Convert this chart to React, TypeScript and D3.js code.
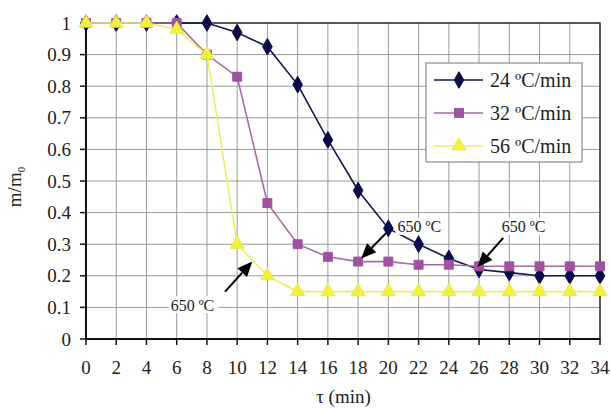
import React from 'react';
import * as d3 from 'd3';

// time (min)
const times = [0, 2, 4, 6, 8, 10, 12, 14, 16, 18, 20, 22, 24, 26, 28, 30, 32, 34];
const rate24 = [1, 1, 1, 1, 1, 0.97, 0.925, 0.805, 0.63, 0.47, 0.35, 0.3, 0.255, 0.22, 0.21, 0.2, 0.2, 0.2];
const rate32 = [1, 1, 1, 1, 0.9, 0.83, 0.43, 0.3, 0.26, 0.245, 0.245, 0.235, 0.235, 0.23, 0.23, 0.23, 0.23, 0.23];
const rate56 = [1, 1, 1, 0.98, 0.9, 0.3, 0.2, 0.15, 0.15, 0.15, 0.15, 0.15, 0.15, 0.15, 0.15, 0.15, 0.15, 0.15];
const seriesNames = ['24 ºC/min', '32 ºC/min', '56 ºC/min'];
const yTicks = [0, 0.1, 0.2, 0.3, 0.4, 0.5, 0.6, 0.7, 0.8, 0.9, 1];

// annotation text position + arrow tail/tip, in data units
const notes = [
  { label: '650 ºC', tx: 20.6, ty: 0.355, x0: 19.85, y0: 0.335, x1: 18.2, y1: 0.255 },
  { label: '650 ºC', tx: 27.5, ty: 0.355, x0: 27.6, y0: 0.32, x1: 25.9, y1: 0.228 },
  { label: '650 ºC', tx: 5.6, ty: 0.107, x0: 9.2, y0: 0.15, x1: 11.0, y1: 0.245 },
];

const W = 611;
const H = 408;
const m = { left: 86, right: 11, top: 23, bottom: 69 };
const font = '"Liberation Serif", "Times New Roman", serif';

const styles = [
  { line: '#141450', fill: '#0b0b4a', stroke: '#0b0b4a', shape: d3.symbolDiamond, size: 80 },
  { line: '#a86aa6', fill: '#a0529e', stroke: '#a0529e', shape: d3.symbolSquare, size: 80 },
  { line: '#eeee66', fill: '#f2f23a', stroke: '#e8e850', shape: d3.symbolTriangle, size: 85 },
];

export default function App() {
  const x = d3.scaleLinear().domain([0, 34]).range([m.left, W - m.right]);
  const y = d3.scaleLinear().domain([0, 1]).range([H - m.bottom, m.top]);
  const series = [rate24, rate32, rate56];
  const line = d3.line<number>().x((_, i) => x(times[i])).y((d) => y(d));

  const arrowPath = (x0: number, y0: number, x1: number, y1: number) => {
    const ax = x(x0), ay = y(y0), bx = x(x1), by = y(y1);
    const ang = Math.atan2(by - ay, bx - ax);
    const hl = 15, hw = 6.5;
    const cx = bx - hl * Math.cos(ang), cy = by - hl * Math.sin(ang);
    const px = -Math.sin(ang) * hw, py = Math.cos(ang) * hw;
    return {
      shaft: `M${ax},${ay}L${cx},${cy}`,
      head: `M${bx},${by}L${cx + px},${cy + py}L${cx - px},${cy - py}Z`,
    };
  };

  const lx = 426, ly = 63, lw = 156, lh = 99;

  return (
    <svg width={W} height={H} style={{ position: 'absolute', left: 0, top: 0, background: '#fff' }} fontFamily={font}>
      {/* grid */}
      {yTicks.map((t) => (
        <line key={'gy' + t} x1={x(0)} x2={x(34)} y1={y(t)} y2={y(t)} stroke="#9a9a9a" strokeWidth={1} />
      ))}
      {times.map((t) => (
        <line key={'gx' + t} x1={x(t)} x2={x(t)} y1={y(0)} y2={y(1)} stroke="#9a9a9a" strokeWidth={1} />
      ))}
      <rect x={x(0)} y={y(1)} width={x(34) - x(0)} height={y(0) - y(1)} fill="none" stroke="#333" strokeWidth={1.5} />
      <line x1={x(0)} x2={x(0)} y1={y(0)} y2={y(1)} stroke="#111" strokeWidth={2} />
      <line x1={x(0)} x2={x(34)} y1={y(0)} y2={y(0)} stroke="#111" strokeWidth={2} />

      {/* ticks */}
      {yTicks.map((t) => (
        <g key={'ty' + t}>
          <line x1={x(0) - 6} x2={x(0)} y1={y(t)} y2={y(t)} stroke="#111" strokeWidth={1.5} />
          <text x={x(0) - 15} y={y(t)} dy="0.35em" textAnchor="end" fontSize={19} fill="#222">
            {d3.format('~g')(t)}
          </text>
        </g>
      ))}
      {times.map((t) => (
        <g key={'tx' + t}>
          <line x1={x(t)} x2={x(t)} y1={y(0)} y2={y(0) + 6} stroke="#111" strokeWidth={1.5} />
          <text x={x(t)} y={y(0) + 28} dy="0.35em" textAnchor="middle" fontSize={19} fill="#222">
            {t}
          </text>
        </g>
      ))}

      {/* axis titles */}
      <text x={W / 2 + 38} y={396} dy="0.35em" textAnchor="middle" fontSize={19} fill="#222">τ (min)</text>
      <text transform={`translate(21,${y(0.5) + 6}) rotate(-90)`} textAnchor="middle" fontSize={19} fill="#222">
        m/m<tspan fontSize={11} dy="4">0</tspan>
      </text>

      {/* series */}
      {series.map((s, k) => (
        <g key={'s' + k}>
          <path d={line(s) || ''} fill="none" stroke={styles[k].line} strokeWidth={1.6} />
          {s.map((v, i) => (
            <path
              key={i}
              d={d3.symbol().type(styles[k].shape).size(styles[k].size)() || ''}
              transform={`translate(${x(times[i])},${y(v)})`}
              fill={styles[k].fill}
              stroke={styles[k].stroke}
              strokeWidth={1}
            />
          ))}
        </g>
      ))}

      {/* annotations */}
      {notes.map((n, i) => {
        const a = arrowPath(n.x0, n.y0, n.x1, n.y1);
        return (
          <g key={'n' + i}>
            <rect x={x(n.tx) - 2} y={y(n.ty) - 9} width={50} height={17} fill="#fff" />
            <text x={x(n.tx)} y={y(n.ty)} dy="0.35em" fontSize={16} fill="#222">{n.label}</text>
            <path d={a.shaft} stroke="#000" strokeWidth={2} />
            <path d={a.head} fill="#000" />
          </g>
        );
      })}

      {/* legend */}
      <rect x={lx} y={ly} width={lw} height={lh} fill="#fff" stroke="#777" strokeWidth={1} />
      {seriesNames.map((name, k) => {
        const cy = ly + 17 + k * 33;
        return (
          <g key={'l' + k}>
            <line x1={lx + 8} x2={lx + 57} y1={cy} y2={cy} stroke={styles[k].line} strokeWidth={1.6} />
            <path
              d={d3.symbol().type(styles[k].shape).size(styles[k].size)() || ''}
              transform={`translate(${lx + 33},${cy})`}
              fill={styles[k].fill}
              stroke={styles[k].stroke}
            />
            <text x={lx + 64} y={cy} dy="0.35em" fontSize={20} fill="#222">{name}</text>
          </g>
        );
      })}
    </svg>
  );
}
